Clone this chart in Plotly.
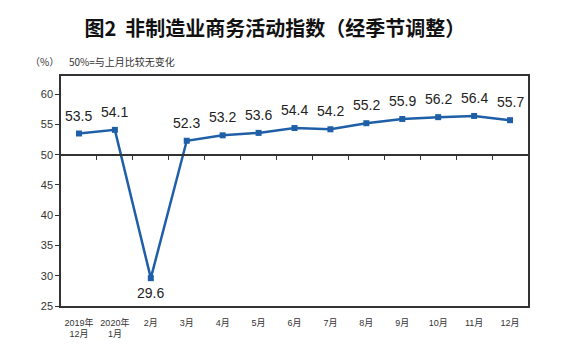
import plotly.graph_objects as go

categories = ["2019年<br>12月", "2020年<br>1月", "2月", "3月", "4月", "5月", "6月",
              "7月", "8月", "9月", "10月", "11月", "12月"]
values = [53.5, 54.1, 29.6, 52.3, 53.2, 53.6, 54.4, 54.2, 55.2, 55.9, 56.2, 56.4, 55.7]
y_ticks = [25, 30, 35, 40, 45, 50, 55, 60]
y_range = [25, 63]
baseline = 50

x_idx = list(range(len(categories)))

fig = go.Figure()
fig.add_trace(go.Scatter(
    x=x_idx, y=values, mode="lines+markers",
    line=dict(color="#1F5FA8", width=2.5),
    marker=dict(symbol="square", size=6, color="#1F5FA8"),
    cliponaxis=False, showlegend=False,
))
# invisible trace on the baseline axis
fig.add_trace(go.Scatter(x=[x_idx[0]], y=[baseline], xaxis="x2", mode="markers",
                         marker=dict(opacity=0), showlegend=False, hoverinfo="skip"))

L, R, T, B = 61, 33, 76, 51
W, H = 561, 357
pw, ph = W - L - R, H - T - B


def px_to_paper(x, y):
    return (x - L) / pw, (H - B - y) / ph


annotations = []
for xi, v in zip(x_idx, values):
    above = v >= baseline
    annotations.append(dict(
        x=xi, y=v, xref="x", yref="y", text=f"{v:.1f}", showarrow=False,
        xanchor="center", yanchor="bottom" if above else "top",
        yshift=8 if above else -5,
        font=dict(size=14, color="#222222", family="Liberation Sans, Arial")))

ax1 = px_to_paper(28, 62)
ax2 = px_to_paper(67, 62)
annotations += [
    dict(text="（%）", x=ax1[0], y=ax1[1], xref="paper", yref="paper", showarrow=False,
         xanchor="left", yanchor="middle",
         font=dict(size=10, color="#333333", family="Noto Sans CJK SC")),
    dict(text="50%=与上月比较无变化", x=ax2[0], y=ax2[1], xref="paper", yref="paper",
         showarrow=False, xanchor="left", yanchor="middle",
         font=dict(size=10, color="#333333", family="Noto Sans CJK SC")),
]

font_fam = "Liberation Sans, Noto Sans CJK SC, sans-serif"
fig.update_layout(
    width=W, height=H,
    margin=dict(l=L, r=R, t=T, b=B, autoexpand=False),
    paper_bgcolor="white", plot_bgcolor="white",
    font=dict(family=font_fam, color="#333333"),
    title=dict(text="<b>图2  非制造业商务活动指数（经季节调整）</b>",
               x=0.49, xanchor="center", y=0.918, yanchor="middle",
               font=dict(family="Noto Sans CJK SC", size=20, color="#111111")),
    xaxis=dict(range=[-0.5, len(categories) - 0.5], tickvals=x_idx, ticktext=categories,
               tickangle=0, automargin=False, ticklabelstandoff=7,
               showgrid=False, zeroline=False, showline=True, linecolor="#333333",
               linewidth=1.5, mirror=True, ticks="",
               tickfont=dict(size=9, color="#333333",
                             family="Liberation Sans, Noto Sans CJK SC")),
    xaxis2=dict(range=[-0.5, len(categories) - 0.5], overlaying="x", anchor="free",
                position=(baseline - y_range[0]) / (y_range[1] - y_range[0]),
                showline=True, linecolor="#333333", linewidth=1.5,
                tickvals=[i + 0.5 for i in x_idx[:-1]], ticks="outside", ticklen=5,
                tickcolor="#333333", showticklabels=False, showgrid=False, zeroline=False),
    yaxis=dict(range=y_range, tickvals=y_ticks, showgrid=False, zeroline=False,
               automargin=False,
               showline=True, linecolor="#333333", linewidth=1.5, mirror=True,
               ticks="outside", ticklen=4, tickcolor="#333333",
               tickfont=dict(size=11, color="#333333")),
    annotations=annotations,
)
fig.write_html("out.html", config={"displayModeBar": False},
               post_script="document.body.style.margin='0px';")
